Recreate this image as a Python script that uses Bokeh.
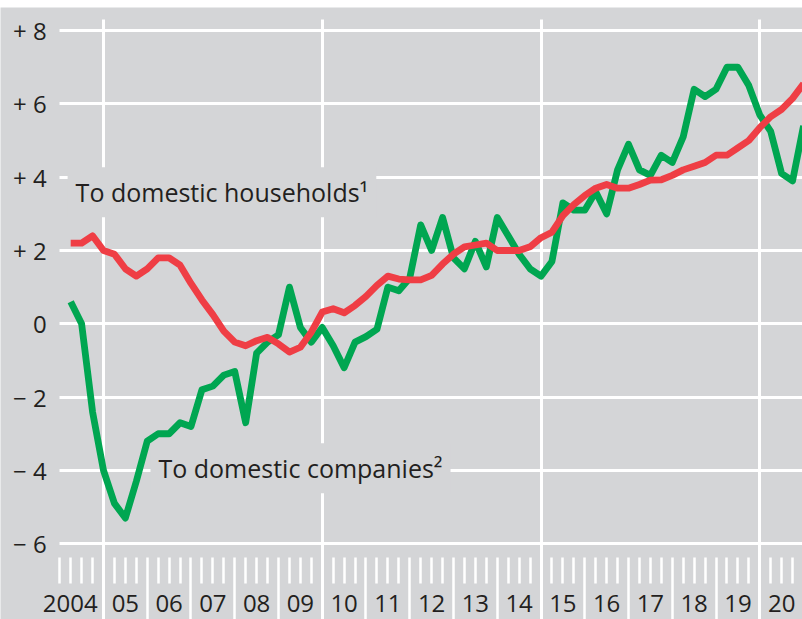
from bokeh.plotting import figure
from bokeh.models import (FixedTicker, Grid, Label, LabelSet, Range1d, Spacer,
                          ColumnDataSource)
from bokeh.layouts import column
from bokeh.core.properties import value
from bokeh.embed import file_html
from bokeh.resources import INLINE

# ---- data -------------------------------------------------------------
years = list(range(2004, 2021))
year_labels = ["2004", "05", "06", "07", "08", "09", "10", "11", "12",
               "13", "14", "15", "16", "17", "18", "19", "20"]
# label anchors: centred in each year; the wide "2004" sits left of the 2005 line
year_label_x = [2004.24] + [y + 0.5 for y in years[1:]]

# quarterly observations 2004 Q1 ... 2020 Q4, plotted at quarter ends
quarter_x = [y + q / 4 for y in years for q in (1, 2, 3, 4)]

companies = [0.6, 0.0, -2.4, -4.0, -4.9, -5.3, -4.3, -3.2,
             -3.0, -3.0, -2.7, -2.8,
             -1.8, -1.7, -1.4, -1.3,
             -2.7, -0.8, -0.5, -0.3,
             1.0, -0.1, -0.5, -0.1,
             -0.6, -1.2, -0.5, -0.35,
             -0.15, 1.0, 0.9, 1.25,
             2.7, 2.0, 2.9, 1.8,
             1.5, 2.25, 1.55, 2.9,
             2.4, 1.9, 1.5, 1.3,
             1.7, 3.3, 3.1, 3.1,
             3.6, 3.0, 4.2, 4.9,
             4.2, 4.05, 4.6, 4.4,
             5.1, 6.4, 6.2, 6.4,
             7.0, 7.0, 6.5, 5.7,
             5.25, 4.1, 3.9, 5.4]

households = [2.2, 2.2, 2.4, 2.0, 1.9, 1.5, 1.3, 1.5,
              1.8, 1.8, 1.6, 1.1,
              0.65, 0.25, -0.2, -0.5,
              -0.6, -0.46, -0.37, -0.55,
              -0.77, -0.64, -0.23, 0.32,
              0.41, 0.3, 0.5, 0.75,
              1.05, 1.3, 1.22, 1.2,
              1.2, 1.32, 1.63, 1.9,
              2.1, 2.15, 2.2, 2.0,
              2.0, 2.0, 2.1, 2.35,
              2.5, 2.95, 3.25, 3.5,
              3.7, 3.8, 3.7, 3.7,
              3.8, 3.92, 3.93, 4.05,
              4.2, 4.3, 4.4, 4.6,
              4.6, 4.8, 5.0, 5.35,
              5.65, 5.85, 6.15, 6.55]

y_ticks = [-6, -4, -2, 0, 2, 4, 6, 8]
y_tick_labels = ["\u2212 6", "\u2212 4", "\u2212 2", "0", "+ 2", "+ 4", "+ 6", "+ 8"]

label_households = "To domestic households\u00b9"
label_companies = "To domestic companies\u00b2"

# ---- style -------------------------------------------------------------
BG = "#d4d5d7"
TXT = "#231f20"
GREEN = "#00a651"
RED = "#ef3e45"
FONT = "Open Sans"

X_START = 2004.0            # where the plotting area's grid begins
X0, X1 = 2002.646, 2020.977 # frame spans the whole figure width
Y0, Y1 = -8.068, 8.630      # frame spans the whole figure height
TICK_TOP = -6.385           # top of the tick strip
QTICK_BOT = -7.094          # end of the short quarter ticks
GRID_TOP = 8.303            # top of the 5-year grid lines
YEAR_LABEL_Y = -7.85        # baseline of the year labels

p = figure(width=802, height=612, output_backend="svg", toolbar_location=None,
           x_range=Range1d(X0, X1), y_range=Range1d(Y0, Y1),
           x_axis_location=None,
           min_border_left=0, min_border_right=0, min_border_top=0,
           min_border_bottom=0,
           background_fill_color=BG, border_fill_color=BG,
           outline_line_color=None)

ya = p.yaxis[0]
ya.fixed_location = X_START
ya.ticker = FixedTicker(ticks=y_ticks)
ya.major_label_overrides = dict(zip(y_ticks, y_tick_labels))
ya.major_tick_line_color = None
ya.minor_tick_line_color = None
ya.axis_line_color = None
ya.major_label_standoff = 7
ya.major_label_text_font = FONT
ya.major_label_text_font_size = "24px"
ya.major_label_text_color = TXT

p.ygrid.ticker = FixedTicker(ticks=y_ticks)
p.ygrid.grid_line_color = "white"
p.ygrid.grid_line_width = 3
p.ygrid.cross_bounds = (X_START, X1)

p.xgrid.ticker = FixedTicker(ticks=[2005, 2010, 2015, 2020])
p.xgrid.grid_line_color = "white"
p.xgrid.grid_line_width = 3
p.xgrid.cross_bounds = (Y0, GRID_TOP)

year_grid = Grid(dimension=0, ticker=FixedTicker(ticks=[y for y in years if y > 2004]),
                 cross_bounds=(Y0, TICK_TOP), grid_line_color="white",
                 grid_line_width=2.5)
p.add_layout(year_grid)
q_ticks = [y + q / 4 for y in years for q in (0, 1, 2, 3) if not (q == 0 and y > 2004)]
quarter_grid = Grid(dimension=0, ticker=FixedTicker(ticks=q_ticks),
                    cross_bounds=(QTICK_BOT, TICK_TOP), grid_line_color="white",
                    grid_line_width=2.5)
p.add_layout(quarter_grid)

for txt, lx, ly in ((label_households, 2004.18, 3.588),
                    (label_companies, 2006.074, -3.942)):
    p.add_layout(Label(x=lx, y=ly, text=txt, text_font=FONT, text_font_size="25px",
                       text_color=TXT, text_baseline="alphabetic", text_align="left",
                       background_fill_color=BG, padding=8, level="underlay"))

# year labels centred in each year
year_src = ColumnDataSource(dict(x=year_label_x,
                                 y=[YEAR_LABEL_Y] * len(years),
                                 text=year_labels))
p.add_layout(LabelSet(x="x", y="y", text="text", source=year_src,
                      text_font=value(FONT), text_font_size=value("24px"),
                      text_color=TXT, text_align="center",
                      text_baseline="alphabetic"))

p.line(quarter_x, companies, line_color=GREEN, line_width=6.8, line_join="round")
p.line(quarter_x, households, line_color=RED, line_width=6.8, line_join="round")

layout = column(Spacer(width=802, height=7), p)
open("out.html", "w").write(file_html(layout, INLINE))
